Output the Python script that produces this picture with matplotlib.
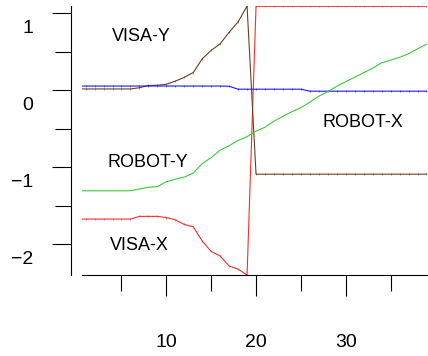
import numpy as np
import matplotlib
matplotlib.use('Agg')
import matplotlib.pyplot as plt
from matplotlib.ticker import MultipleLocator
from matplotlib.transforms import ScaledTranslation

plt.rcParams['font.family'] = ['Liberation Sans', 'DejaVu Sans']

# sample index (x=0 is clipped by the axis limits)
x = np.arange(0, 40)

visa_x = [-1.67, -1.67, -1.67, -1.67, -1.67, -1.67, -1.67, -1.635, -1.635, -1.635,
          -1.65, -1.68, -1.74, -1.77, -1.955, -2.09, -2.15, -2.28, -2.32, -2.396,
          1.092, 1.092, 1.092, 1.092, 1.092, 1.092, 1.092, 1.092, 1.092, 1.092,
          1.092, 1.092, 1.092, 1.092, 1.092, 1.092, 1.092, 1.092, 1.092, 1.092]
visa_y = [0.019, 0.019, 0.019, 0.019, 0.019, 0.019, 0.019, 0.035, 0.064, 0.067,
          0.08, 0.12, 0.17, 0.232, 0.41, 0.52, 0.605, 0.755, 0.89, 1.096,
          -1.087, -1.087, -1.087, -1.087, -1.087, -1.087, -1.087, -1.087, -1.087, -1.087,
          -1.087, -1.087, -1.087, -1.087, -1.087, -1.087, -1.087, -1.087, -1.087, -1.087]
robot_x = [0.057, 0.057, 0.057, 0.057, 0.057, 0.057, 0.057, 0.057, 0.057, 0.057,
           0.057, 0.057, 0.057, 0.057, 0.057, 0.057, 0.057, 0.054, 0.016, 0.016,
           0.016, 0.016, 0.016, 0.016, 0.016, 0.016, -0.01, -0.01, -0.01, -0.01,
           -0.01, -0.01, -0.01, -0.01, -0.01, -0.01, -0.01, -0.01, -0.01, -0.01]
robot_y = [-1.303, -1.303, -1.303, -1.303, -1.303, -1.303, -1.303, -1.28, -1.258, -1.249,
           -1.186, -1.151, -1.125, -1.074, -0.95, -0.873, -0.775, -0.717, -0.65, -0.60,
           -0.529, -0.477, -0.40, -0.335, -0.276, -0.224, -0.153, -0.075, -0.017, 0.054,
           0.113, 0.171, 0.23, 0.288, 0.359, 0.392, 0.43, 0.476, 0.54, 0.60]

fig = plt.figure(figsize=(4.28, 3.56), dpi=100)
ax = fig.add_axes([82 / 428, 81 / 356, 1 - 82 / 428, 269 / 356])

ax.plot(x, visa_x, color='#f03030', lw=0.8, marker='|', ms=2, mew=0.4)
ax.plot(x, visa_y, color='#6a3f20', lw=0.8, marker='|', ms=2, mew=0.4)
ax.plot(x, robot_x, color='#1a1aff', lw=0.8, marker='|', ms=2, mew=0.4)
ax.plot(x, robot_y, color='#3cc83c', lw=0.8)

ax.set_xlim(0.6, 39.17)
lo = min(min(visa_x), min(visa_y), min(robot_x), min(robot_y))
hi = max(max(visa_x), max(visa_y), max(robot_x), max(robot_y))
ax.set_ylim(lo, hi)

ax.text(7.18, 0.70, 'VISA-Y', fontsize=13, ha='center', va='center')
ax.text(7.96, -0.94, 'ROBOT-Y', fontsize=13, ha='center', va='center')
ax.text(6.96, -2.01, 'VISA-X', fontsize=13, ha='center', va='center')
ax.text(31.87, -0.42, 'ROBOT-X', fontsize=13, ha='center', va='center')

for s in ['top', 'right']:
    ax.spines[s].set_visible(False)
ax.spines['left'].set_position(('outward', 7.9))
ax.spines['left'].set_linewidth(0.8)
ax.spines['bottom'].set_linewidth(0.8)

ax.xaxis.set_major_locator(MultipleLocator(10))
ax.xaxis.set_minor_locator(MultipleLocator(5))
ax.yaxis.set_major_locator(MultipleLocator(1))
ax.yaxis.set_minor_locator(MultipleLocator(0.5))

ax.tick_params(axis='x', which='major', length=15, width=0.8, pad=27.5, labelsize=14)
ax.tick_params(axis='x', which='minor', length=11.5, width=0.8)
ax.tick_params(axis='y', which='major', length=13.7, width=0.8, pad=13.7, labelsize=14)
ax.tick_params(axis='y', which='minor', length=11.5, width=0.8)

ax.set_yticks([-2, -1, 0, 1])
ax.set_yticklabels(['\u22122', '\u22121', '0', '1'])
shift = ScaledTranslation(0, -13.5 / 100, fig.dpi_scale_trans)
for lab in ax.get_yticklabels():
    lab.set_transform(lab.get_transform() + shift)

fig.savefig('out.png', dpi=100)
